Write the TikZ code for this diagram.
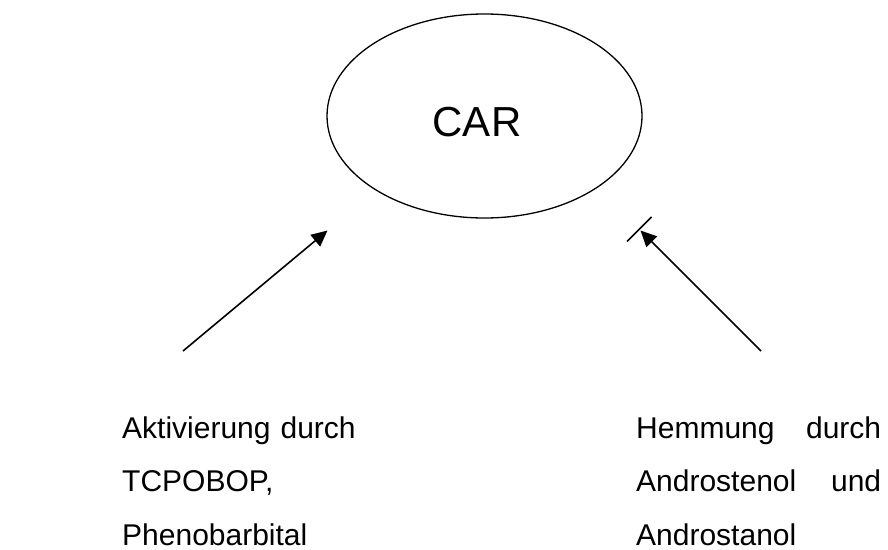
\documentclass[tikz,border=0pt]{standalone}
\usepackage{fontspec}
\setmainfont{Liberation Sans}
\usetikzlibrary{shapes.geometric,arrows.meta}
\begin{document}
\begin{tikzpicture}[x=1pt,y=-1pt,
  conn/.style={line width=1.6pt,-{Triangle[length=16pt,width=15pt]}},
  barline/.style={line width=1.6pt},
  bodytext/.style={inner sep=0pt,anchor=base west,text width=#1,align=justify,
    font=\fontsize{30}{53.5}\selectfont},
]
\useasboundingbox (0,0) rectangle (888,549);
\node[draw,ellipse,line width=1.3pt,minimum width=315pt,minimum height=204pt,inner sep=0pt] (car) at (484.5,116) {};
\node[inner sep=0pt,font=\fontsize{42}{48}\selectfont] (carlabel) at (477,122) {CAR};
\coordinate (astart) at (183,351);
\coordinate (atip) at (327.5,230.5);
\coordinate (hstart) at (761,351);
\coordinate (htip) at (640.5,230.5);
\coordinate (bara) at (627,241.5);
\coordinate (barb) at (651.5,217);
\draw[conn] (astart) -- (atip);
\draw[conn] (hstart) -- (htip);
\draw[barline] (bara) -- (barb);
\node[bodytext=260pt,align=left] (akt) at (122,438) {Aktivierung durch\\TCPOBOP,\\Phenobarbital};
\node[bodytext=245pt] (hem) at (636,438) {Hemmung durch\linebreak Androstenol und\linebreak Androstanol};
\end{tikzpicture}
\end{document}
